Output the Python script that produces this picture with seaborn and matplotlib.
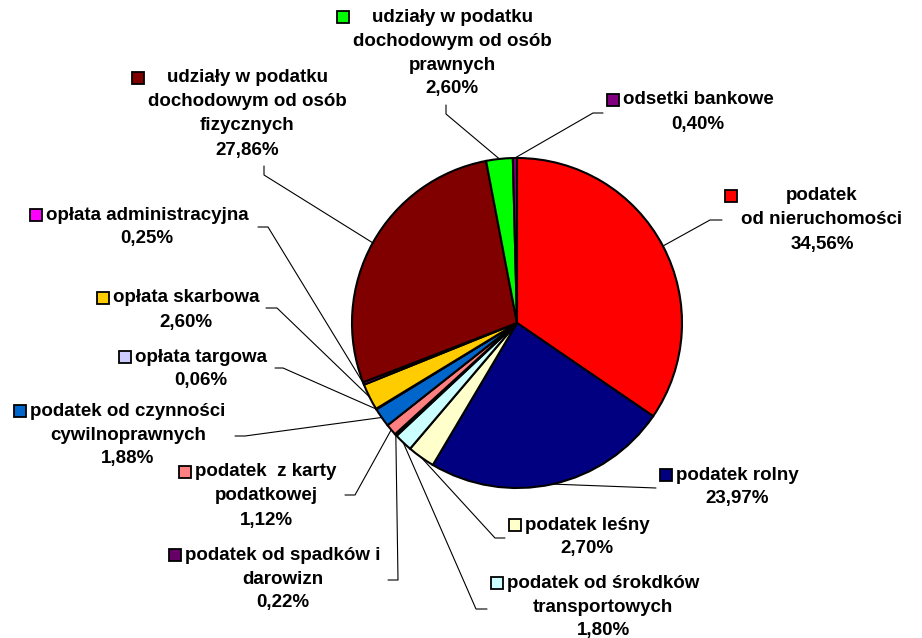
"""Struktura dochodów gminy - wykres kołowy z opisami."""

import matplotlib

matplotlib.use('Agg')

import matplotlib.pyplot as plt
import numpy as np
import seaborn as sns
from matplotlib.patches import Rectangle

# dane
categories = [
    'podatek\nod nieruchomości',
    'podatek rolny',
    'podatek leśny',
    'podatek od śrokdków\ntransportowych',
    'podatek od spadków i\ndarowizn',
    'podatek  z karty\npodatkowej',
    'podatek od czynności\ncywilnoprawnych',
    'opłata targowa',
    'opłata skarbowa',
    'opłata administracyjna',
    'udziały w podatku\ndochodowym od osób\nfizycznych',
    'udziały w podatku\ndochodowym od osób\nprawnych',
    'odsetki bankowe',
]
shares = [34.56, 23.97, 2.70, 1.80, 0.22, 1.12, 1.88, 0.06, 2.60, 0.25, 27.86, 2.60, 0.40]
colors = ['#FF0000', '#000080', '#FFFFCC', '#CCFFFF', '#660066', '#FF8080', '#0066CC',
          '#CCCCFF', '#FFCC00', '#FF00FF', '#800000', '#00FF00', '#800080']

# układ (piksele obrazu, y w dół): środek pierwszej linii opisu i łamana linii odniesienia
label_pos = [(822, 196), (737, 475), (587, 525), (603, 583), (283, 555), (266, 472),
             (128, 411), (201, 357), (186, 298), (147, 215), (247, 78), (452, 17), (698, 100)]
leaders = [
    [(710, 220), (722, 220)],
    [(656, 488)],
    [(495, 538), (505, 538)],
    [(476, 609), (487, 609)],
    [(398, 580), (388, 580)],
    [(355, 495), (345, 495)],
    [(245, 436), (235, 436)],
    [(283, 368), (275, 368)],
    [(277, 308), (266, 308)],
    [(268, 227), (258, 227)],
    [(264, 175), (264, 166)],
    [(446, 114), (446, 105)],
    [(593, 113), (603, 113)],
]

W, H = 922, 638
CENTER = (517, 323)
RADIUS = 165
LINE_STEP = 24
FONT = ['Liberation Sans', 'DejaVu Sans']


def py(y):
    return H - y


def main() -> None:
    sns.set_theme(style='white')
    fig = plt.figure(figsize=(W / 100, H / 100), dpi=100)
    ax = fig.add_axes([0, 0, 1, 1])

    wedges, _ = ax.pie(
        shares, colors=colors, startangle=90, counterclock=False,
        center=(CENTER[0], py(CENTER[1])), radius=RADIUS,
        wedgeprops=dict(edgecolor='black', linewidth=1.5),
    )
    ax.set_xlim(0, W)
    ax.set_ylim(0, H)
    ax.set_aspect('equal')
    ax.axis('off')

    texts = []
    for w, name, val, (cx, y0), pts in zip(wedges, categories, shares, label_pos, leaders):
        mid = np.deg2rad((w.theta1 + w.theta2) / 2)
        ex = CENTER[0] + RADIUS * np.cos(mid)
        ey = py(CENTER[1]) + RADIUS * np.sin(mid)
        xs = [ex] + [p[0] for p in pts]
        ys = [ey] + [py(p[1]) for p in pts]
        ax.plot(xs, ys, color='black', lw=0.8, zorder=3)

        lines = name.split('\n') + [f'{val:.2f}'.replace('.', ',') + '%']
        group = []
        for i, line in enumerate(lines):
            t = ax.text(cx, py(y0 + i * LINE_STEP), line, ha='center', va='center',
                        fontsize=13.5, fontweight='bold', family=FONT, color='black')
            group.append(t)
        texts.append(group)

    fig.canvas.draw()
    renderer = fig.canvas.get_renderer()
    inv = ax.transData.inverted()
    for group, col, (cx, y0) in zip(texts, colors, label_pos):
        x0 = min(inv.transform(t.get_window_extent(renderer))[0][0] for t in group)
        size = 12
        ax.add_patch(Rectangle((x0 - 4 - size, py(y0) - size / 2), size, size,
                               facecolor=col, edgecolor='black', lw=1.3, zorder=4))

    fig.savefig('out.png', dpi=100)
    plt.close(fig)


if __name__ == '__main__':
    main()
